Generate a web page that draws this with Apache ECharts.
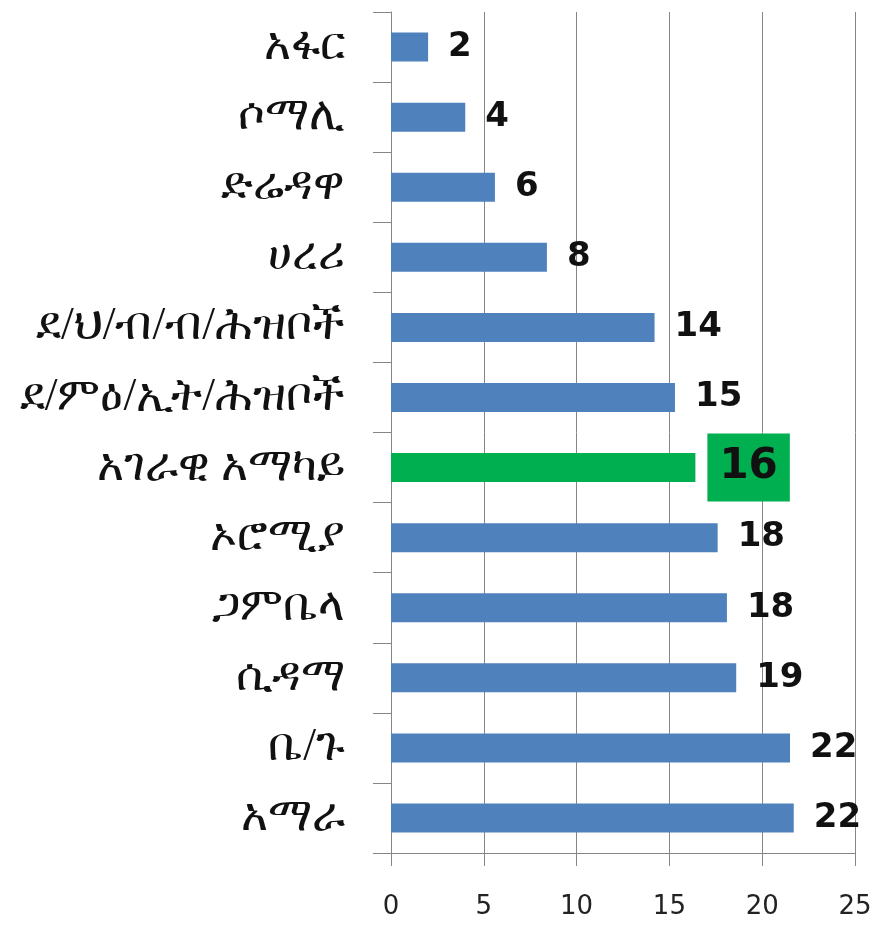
<!DOCTYPE html>
<html>
<head>
<meta charset="utf-8">
<script src="https://cdn.jsdelivr.net/npm/echarts@6/dist/echarts.min.js"></script>
<style>
  html, body { margin: 0; padding: 0; background: #fff; }
  #chart { width: 877px; height: 929px; }
</style>
</head>
<body>
<div id="chart"></div>
<script>
// regions, top to bottom
const categories = ['አፋር', 'ሶማሊ', 'ድሬዳዋ', 'ሀረሪ', 'ደ/ህ/ብ/ብ/ሕዝቦች', 'ደ/ምዕ/ኢት/ሕዝቦች',
  'አገራዊ አማካይ', 'ኦሮሚያ', 'ጋምቤላ', 'ሲዳማ', 'ቤ/ጉ', 'አማራ'];
// bar lengths as drawn
const values = [2.0, 4.0, 5.6, 8.4, 14.2, 15.3, 16.4, 17.6, 18.1, 18.6, 21.5, 21.7];
// rounded labels printed next to the bars
const labelTexts = ['2', '4', '6', '8', '14', '15', '16', '18', '18', '19', '22', '22'];
const xTicks = [0, 5, 10, 15, 20, 25];
const highlightIndex = 6; // national average

const chart = echarts.init(document.getElementById('chart'));

const seriesData = values.map((v, i) => {
  if (i !== highlightIndex) return v;
  return {
    value: v,
    itemStyle: { color: '#00B050' },
    label: {
      fontSize: 42,
      lineHeight: 42,
      backgroundColor: '#00B050',
      padding: [13, 12, 13, 12],
      distance: 12
    }
  };
});

const option = {
  animation: false,
  grid: { left: 391, right: 22, top: 12, bottom: 76 },
  xAxis: {
    type: 'value',
    min: xTicks[0],
    max: xTicks[xTicks.length - 1],
    interval: 5,
    axisLine: { show: true, lineStyle: { color: '#868686', width: 1 } },
    axisTick: { show: true, length: 13, lineStyle: { color: '#868686' } },
    splitLine: { show: true, lineStyle: { color: '#868686', width: 1 } },
    axisLabel: {
      margin: 41,
      fontSize: 26,
      color: '#222',
      fontFamily: 'DejaVu Sans'
    }
  },
  yAxis: {
    type: 'category',
    inverse: true,
    data: categories,
    axisLine: { show: true, lineStyle: { color: '#868686', width: 1 } },
    axisTick: { show: true, length: 18, lineStyle: { color: '#868686' } },
    axisLabel: {
      margin: 46,
      fontSize: 46,
      color: '#111',
      fontFamily: 'serif'
    }
  },
  series: [{
    type: 'bar',
    data: seriesData,
    barWidth: 29,
    itemStyle: { color: '#4F81BD' },
    label: {
      show: true,
      position: 'right',
      distance: 20,
      color: '#111',
      fontSize: 34,
      fontWeight: 'bold',
      fontFamily: 'DejaVu Sans',
      formatter: p => labelTexts[p.dataIndex]
    }
  }]
};

chart.setOption(option);
</script>
</body>
</html>
